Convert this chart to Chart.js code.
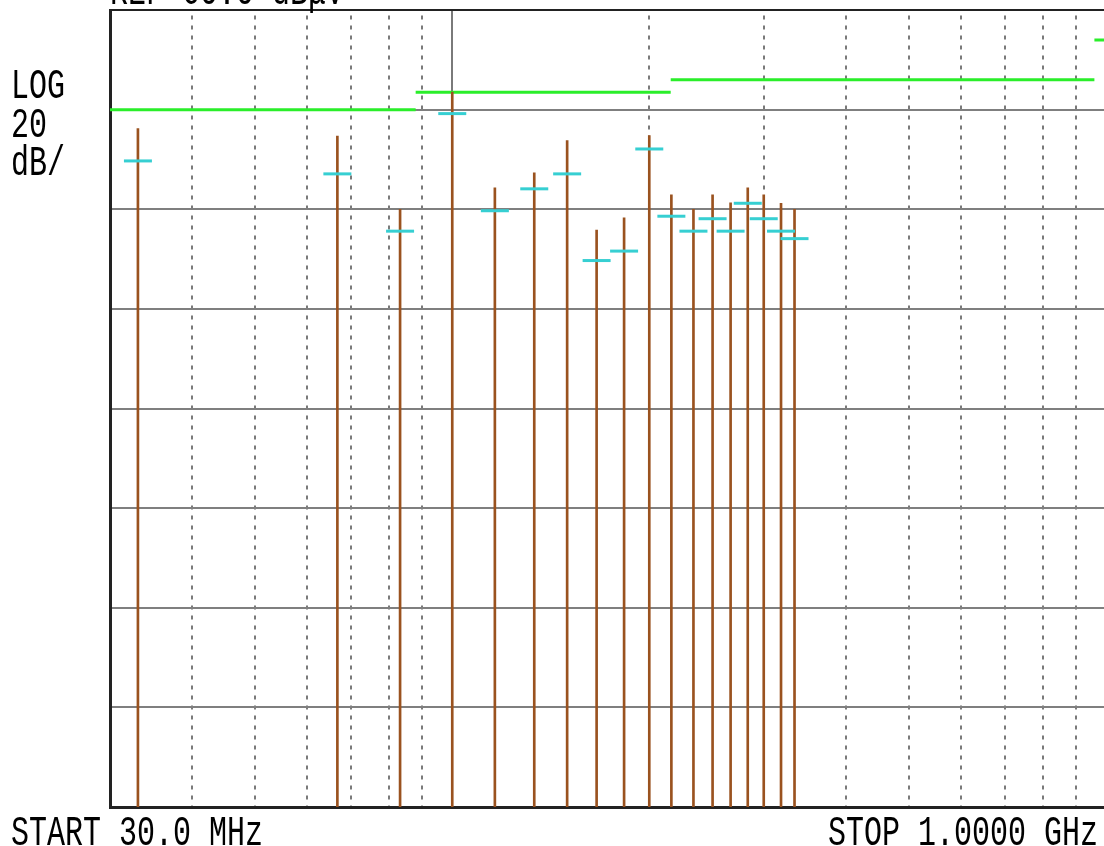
<!DOCTYPE html>
<html>
<head>
<meta charset="utf-8">
<script src="https://cdn.jsdelivr.net/npm/chart.js@4"></script>
<style>
  html, body { margin: 0; padding: 0; background: #fff; overflow: hidden; width: 1104px; height: 846px; }
  #wrap { position: relative; width: 1104px; height: 846px; }
  canvas { position: absolute; left: 0; top: 0; }
  .lbl {
    position: absolute; font-family: "Liberation Mono", "DejaVu Sans Mono", monospace;
    font-size: 30px; line-height: 30px; color: #000; white-space: pre;
    transform: scaleY(1.4); transform-origin: 0 0;
  }
</style>
</head>
<body>
<div id="wrap">
  <canvas id="emiChart" width="1108" height="846"></canvas>
  <div class="lbl" style="left:110px; top:-28px;">REF 60.0 dBμV</div>
  <div class="lbl" style="left:11px; top:66px;">LOG</div>
  <div class="lbl" style="left:11px; top:105px;">20</div>
  <div class="lbl" style="left:11px; top:143px;">dB/</div>
  <div class="lbl" style="left:11px; top:813px;">START 30.0 MHz</div>
  <div class="lbl" style="left:828px; top:813px;">STOP 1.0000 GHz</div>
</div>
<script>
// measured emissions (MHz, dBuV)
const freqs = [33.1, 66.8, 83.3, 100.1, 116.3, 133.6, 150, 166.4, 183.3, 200.3, 216.5, 234, 250.3, 266.7, 283.3, 299.7, 318.5, 334];
const peakLevels = [36.2, 34.7, 20.0, 43.5, 24.3, 27.3, 33.8, 15.8, 18.3, 34.8, 22.9, 20.0, 22.9, 21.3, 24.3, 22.9, 21.2, 20.0];
const qpLevels = [29.7, 27.1, 15.6, 39.2, 19.7, 24.1, 27.1, 9.7, 11.6, 32.1, 18.6, 15.6, 18.1, 15.6, 21.2, 18.1, 15.6, 14.1];

// limit line steps
const limitStart = [30, 88, 216, 960];
const limitStop = [88, 216, 960, 1000];
const limitLevels = [40, 43.5, 46, 54];

// axis
const startFreq = 30, stopFreq = 1000;
const refLevel = 60, dbPerDiv = 20, divisions = 8;
const gridFreqs = [40, 50, 60, 70, 80, 90, 100, 200, 300, 400, 500, 600, 700, 800, 900];

let peakData = [];
let qpData = [];
for (i = 0; i < freqs.length; i++) {
  peakData.push({ x: freqs[i], y: [refLevel - dbPerDiv * divisions, peakLevels[i]] });
  qpData.push({ x: freqs[i], y: qpLevels[i] });
}

let limitData = [];
for (i = 0; i < limitLevels.length; i++) {
  limitData.push({ x: limitStart[i], y: limitLevels[i] });
  limitData.push({ x: limitStop[i], y: limitLevels[i] });
  if (i < limitLevels.length - 1) limitData.push({ x: limitStop[i], y: null });
}

const data = {
  datasets: [
    {
      type: "line",
      label: "QP",
      data: qpData,
      showLine: false,
      pointStyle: "line",
      pointRadius: 14,
      pointBorderWidth: 3,
      pointBorderColor: "#36cfd2",
      order: 0,
    },
    {
      type: "bar",
      label: "Peak",
      data: peakData,
      backgroundColor: "#9a521f",
      borderWidth: 0,
      barThickness: 2,
      grouped: false,
      order: 1,
    },
    {
      type: "line",
      label: "Limit",
      data: limitData,
      borderColor: "#2aee2a",
      borderWidth: 3,
      pointRadius: 0,
      spanGaps: false,
      tension: 0,
      order: 2,
    },
  ],
};

const config = {
  type: "line",
  data: data,
  options: {
    responsive: false,
    animation: false,
    devicePixelRatio: 1,
    layout: { autoPadding: false, padding: { left: 110, top: 10, right: 2, bottom: 39 } },
    plugins: { legend: { display: false }, tooltip: { enabled: false } },
    scales: {
      x: {
        type: "logarithmic",
        min: startFreq,
        max: stopFreq,
        offset: false,
        afterBuildTicks: function (scale) {
          scale.ticks = gridFreqs.map(function (v) { return { value: v }; });
        },
        afterFit: function (scale) { scale.height = 0; },
        ticks: { display: false },
        grid: {
          offset: false,
          drawTicks: false,
          color: "#7a7a7a",
          lineWidth: 2,
        },
        border: {
          display: true,
          color: "#222",
          width: 3,
          dash: function (ctx) {
            return ctx.tick && ctx.tick.value === 100 ? [] : [4, 6];
          },
          dashOffset: 4.5,
        },
      },
      y: {
        type: "linear",
        min: refLevel - dbPerDiv * divisions,
        max: refLevel,
        afterFit: function (scale) { scale.width = 0; },
        ticks: { display: false, stepSize: dbPerDiv },
        grid: {
          drawTicks: false,
          color: function (ctx) {
            return ctx.tick && ctx.tick.value === refLevel ? "#222" : "#7f7f7f";
          },
          lineWidth: 2,
        },
        border: { display: true, color: "#222", width: 3 },
      },
    },
  },
};

const emiChart = new Chart(document.getElementById("emiChart"), config);
</script>
</body>
</html>
